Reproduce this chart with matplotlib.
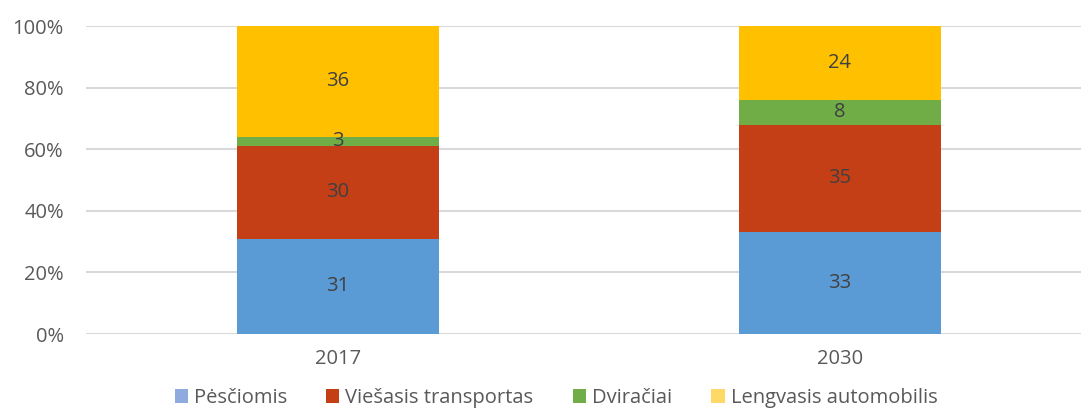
import matplotlib.pyplot as plt
from matplotlib.patches import Patch

years = ["2017", "2030"]
series = ["Pėsčiomis", "Viešasis transportas", "Dviračiai", "Lengvasis automobilis"]
pesciomis = [31, 33]
viesasis = [30, 35]
dviraciai = [3, 8]
automobilis = [36, 24]

bar_colors = ["#5B9BD5", "#C43E16", "#70AD47", "#FFC000"]
legend_colors = ["#8FAADC", "#C43E16", "#70AD47", "#FFD966"]

plt.rcParams["font.family"] = ["Open Sans", "DejaVu Sans"]

fig = plt.figure(figsize=(10.81, 4.11), dpi=100)
ax = fig.add_axes([86 / 1081, 1 - 334 / 411, (1081 - 86) / 1081, (334 - 26) / 411])

x = list(range(len(years)))
bottom = [0, 0]
for vals, col in zip([pesciomis, viesasis, dviraciai, automobilis], bar_colors):
    bars = ax.bar(x, vals, bottom=bottom, width=0.402, color=col, zorder=2)
    for b, v, bt in zip(bars, vals, bottom):
        ax.text(b.get_x() + b.get_width() / 2, bt + v / 2, str(v),
                ha="center", va="center", fontsize=14.5, color="#404040", zorder=3)
    bottom = [a + b for a, b in zip(bottom, vals)]

ax.set_xlim(-0.501, 1.48)
ax.set_ylim(0, 100)
ax.set_yticks(range(0, 101, 20))
ax.set_yticklabels([f"{t}%" for t in range(0, 101, 20)])
ax.set_xticks(x)
ax.set_xticklabels(years)
ax.tick_params(axis="both", length=0, labelsize=14.5, colors="#595959")
ax.tick_params(axis="y", pad=16)
ax.tick_params(axis="x", pad=11)
ax.grid(axis="y", color="#D9D9D9", linewidth=1.5, zorder=0)
for s in ax.spines.values():
    s.set_visible(False)

handles = [Patch(facecolor=c, label=l) for c, l in zip(legend_colors, series)]
fig.legend(handles=handles, loc="center", bbox_to_anchor=(556 / 1081, 1 - 398 / 411),
           ncol=4, frameon=False, fontsize=14.5, handlelength=0.65, handleheight=0.65,
           handletextpad=0.3, columnspacing=1.95, labelcolor="#595959")

fig.savefig("out.png", dpi=100)
